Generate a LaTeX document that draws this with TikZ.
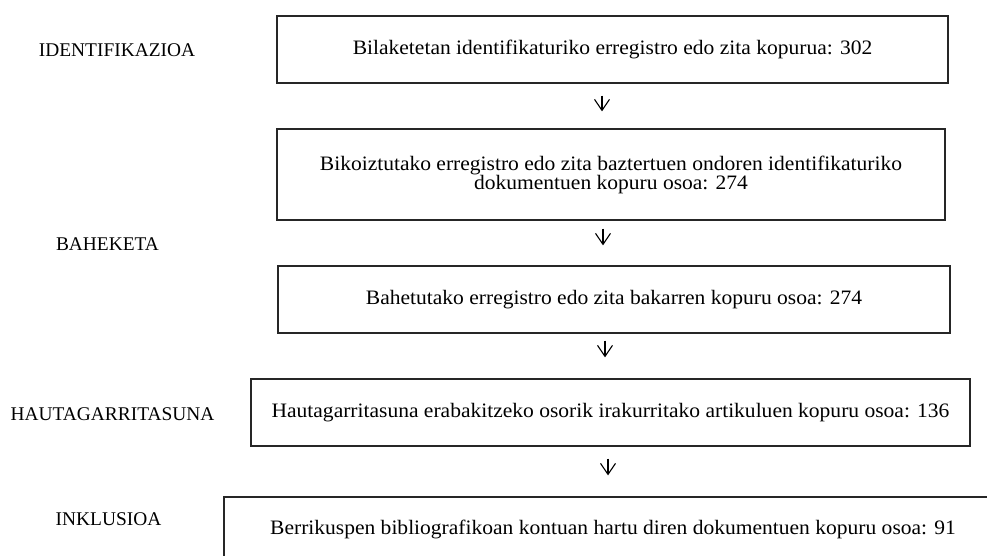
\documentclass[tikz,border=0pt]{standalone}
\usepackage{fontspec}
\setmainfont{Liberation Serif}
\newfontfamily\boxfont{Liberation Serif}[FakeStretch=1.05]
\usetikzlibrary{arrows.meta,shadows}
\begin{document}
\begin{tikzpicture}[x=1pt,y=-1pt,
  stagebox/.style={draw=black!85, line width=1.3pt, fill=white, inner sep=0pt,
    align=center, font=\boxfont\fontsize{20.5}{19}\selectfont,
    drop shadow={shadow xshift=1.2pt, shadow yshift=-1.2pt, fill=black!35, opacity=1}},
  phase/.style={font=\fontsize{19.4}{21}\selectfont, inner sep=0pt},
  flow/.style={line width=1.1pt, -{Straight Barb[length=11pt,width=15pt]}}]
\useasboundingbox (0,0) rectangle (987,556);
\clip (0,0) rectangle (987,556);

% phase labels
\node[phase] (l1) at (117,50) {IDENTIFIKAZIOA};
\node[phase] (l2) at (107.5,244) {BAHEKETA};
\node[phase] (l3) at (112.5,414) {HAUTAGARRITASUNA};
\node[phase] (l4) at (108.5,519) {INKLUSIOA};

% flow boxes
\node[stagebox, minimum width=671pt, minimum height=67pt] (b1) at (612.5,49.5)
  {Bilaketetan identifikaturiko erregistro edo zita kopurua: 302};
\node[stagebox, minimum width=668pt, minimum height=91pt] (b2) at (611,174.5)
  {Bikoiztutako erregistro edo zita baztertuen ondoren identifikaturiko\\dokumentuen kopuru osoa: 274};
\node[stagebox, minimum width=672pt, minimum height=67pt] (b3) at (614,299.5)
  {Bahetutako erregistro edo zita bakarren kopuru osoa: 274};
\node[stagebox, minimum width=719pt, minimum height=67pt] (b4) at (610.5,412.5)
  {Hautagarritasuna erabakitzeko osorik irakurritako artikuluen kopuru osoa: 136};
\node[stagebox, minimum width=778pt, minimum height=64pt] (b5) at (613,529)
  {Berrikuspen bibliografikoan kontuan hartu diren dokumentuen kopuru osoa: 91};

% arrow columns
\coordinate (x1) at (602,0);
\coordinate (x2) at (603,0);
\coordinate (x3) at (605,0);
\coordinate (x4) at (608,0);

\draw[flow, shorten <=12pt, shorten >=17pt] (b1.south -| x1) -- (b2.north -| x1);
\draw[flow, shorten <=8pt,  shorten >=20pt] (b2.south -| x2) -- (b3.north -| x2);
\draw[flow, shorten <=7pt,  shorten >=21pt] (b3.south -| x3) -- (b4.north -| x3);
\draw[flow, shorten <=12pt, shorten >=21pt] (b4.south -| x4) -- (b5.north -| x4);
\end{tikzpicture}
\end{document}
